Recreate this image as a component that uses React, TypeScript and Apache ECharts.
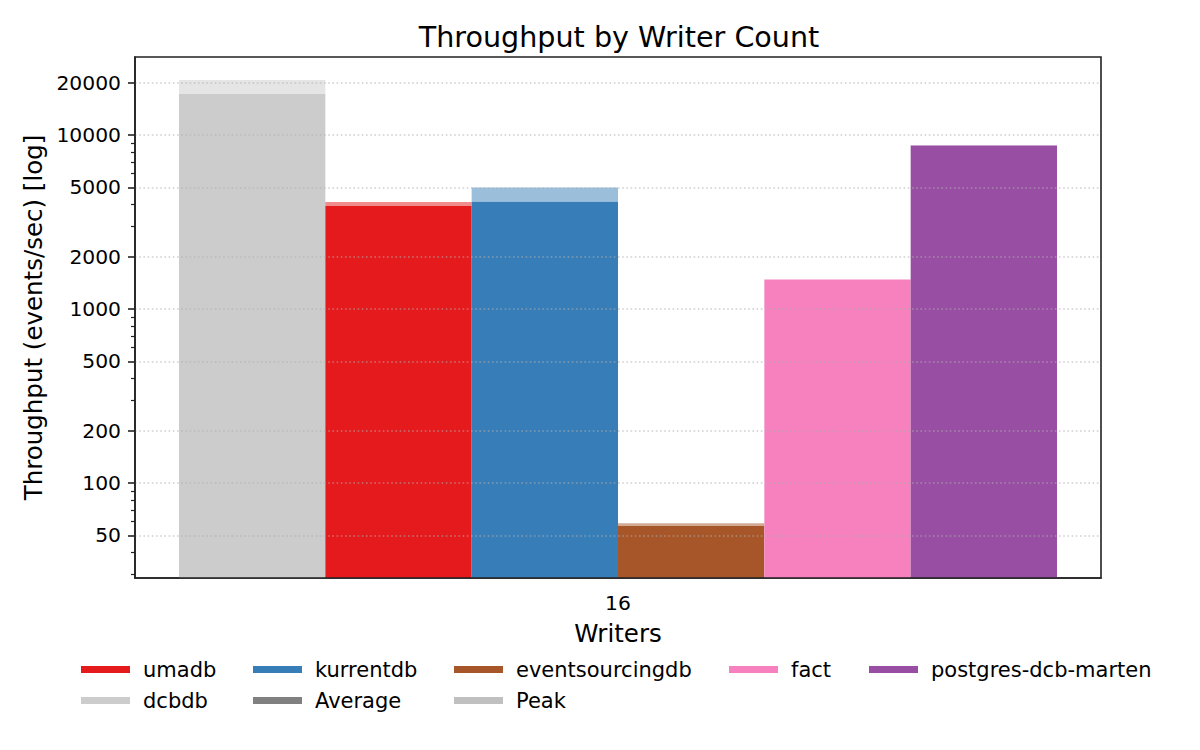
import React, { useEffect, useRef } from "react";
import * as echarts from "echarts";

// ---- data ----
const categories = ["16"];
const databases = ["dcbdb", "umadb", "kurrentdb", "eventsourcingdb", "fact", "postgres-dcb-marten"];
const averageThroughput = [17200, 3910, 4130, 56.6, 1468, 8680];
const peakThroughput = [20700, 4120, 4990, 58.6, 1487, 8760];
const seriesColors = ["#cccccc", "#e41a1c", "#377eb8", "#a65628", "#f781bf", "#984ea3"];
const majorTickValues = [50, 100, 200, 500, 1000, 2000, 5000, 10000, 20000];
const minorTickValues = [30, 40, 60, 70, 80, 90, 300, 400, 600, 700, 800, 900, 3000, 4000, 6000, 7000, 8000, 9000];
const yRange = [28.4, 28070];
const legendColumns = [
  ["umadb", "dcbdb"],
  ["kurrentdb", "Average"],
  ["eventsourcingdb", "Peak"],
  ["fact"],
  ["postgres-dcb-marten"],
];

const FONT = "DejaVu Sans";

export default function App() {
  const ref = useRef<HTMLDivElement>(null);

  useEffect(() => {
    if (!ref.current) return;
    const chart = echarts.init(ref.current, undefined, { renderer: "svg" });
    const lg = (v: number) => Math.log10(v);
    const yMin = lg(yRange[0]);
    const yMax = lg(yRange[1]);
    const barW = 146.33;

    const series: any[] = [];
    databases.forEach((name, i) => {
      series.push({
        type: "bar",
        name,
        stack: name,
        barWidth: barW,
        barGap: "0%",
        data: [lg(averageThroughput[i])],
        itemStyle: { color: seriesColors[i] },
        emphasis: { disabled: true },
      });
      series.push({
        type: "bar",
        name: name + " peak",
        stack: name,
        barWidth: barW,
        barGap: "0%",
        data: [lg(peakThroughput[i]) - lg(averageThroughput[i])],
        itemStyle: { color: seriesColors[i], opacity: 0.5 },
        emphasis: { disabled: true },
      });
    });
    series.push({
      type: "bar",
      name: "Average",
      stack: "dcbdb",
      barWidth: barW,
      barGap: "0%",
      data: [],
      itemStyle: { color: "#808080" },
    });
    series.push({
      type: "bar",
      name: "Peak",
      stack: "dcbdb",
      barWidth: barW,
      barGap: "0%",
      data: [],
      itemStyle: { color: "#c0c0c0" },
    });

    const legendLefts = [81, 253, 454, 729, 869];
    const legends = legendColumns.map((col, i) => ({
      orient: "vertical",
      left: legendLefts[i],
      top: 659,
      padding: 0,
      itemGap: 10,
      itemWidth: 49,
      itemHeight: 7,
      icon: "rect",
      selectedMode: false,
      data: col,
      textStyle: {
        fontFamily: FONT,
        fontSize: 21,
        color: "#000",
        lineHeight: 20,
        padding: [0, 0, 0, 8],
      },
    }));

    chart.setOption({
      animation: false,
      textStyle: { fontFamily: FONT },
      title: {
        text: "Throughput by Writer Count",
        left: 614,
        top: 17,
        textAlign: "center",
        textStyle: { fontFamily: FONT, fontSize: 28.6, fontWeight: "normal", color: "#000" },
      },
      legend: legends,
      grid: {
        left: 135,
        top: 57,
        width: 966,
        height: 521,
        show: true,
        borderColor: "#222",
        borderWidth: 1.6,
        backgroundColor: "transparent",
        containLabel: false,
        outerBoundsMode: "none",
      },
      xAxis: {
        type: "category",
        data: categories,
        z: 3,
        name: "Writers",
        nameLocation: "middle",
        nameGap: 43,
        nameTextStyle: { fontFamily: FONT, fontSize: 24.5, color: "#000" },
        axisLine: { onZero: false, lineStyle: { color: "#222", width: 1.6 } },
        axisTick: { alignWithLabel: true, length: 7, lineStyle: { color: "#222", width: 1.6 } },
        axisLabel: { fontFamily: FONT, fontSize: 20.3, color: "#000", margin: 15 },
        splitLine: { show: false },
      },
      yAxis: [
        {
          type: "value",
          min: yMin,
          max: yMax,
          z: 3,
          name: "Throughput (events/sec) [log]",
          nameLocation: "middle",
          nameGap: 88,
          nameTextStyle: { fontFamily: FONT, fontSize: 24.5, color: "#000" },
          axisLine: { show: true, lineStyle: { color: "#222", width: 1.6 } },
          axisTick: {
            show: true,
            customValues: majorTickValues.map(lg),
            length: 7,
            lineStyle: { color: "#222", width: 1.6 },
          },
          axisLabel: {
            customValues: majorTickValues.map(lg),
            formatter: (v: number) => String(Math.round(Math.pow(10, v))),
            fontFamily: FONT,
            fontSize: 20.3,
            color: "#000",
            margin: 14,
          },
          splitLine: {
            show: true,
            lineStyle: { color: "#b0b0b0", opacity: 0.6, type: [1.6, 2.6], width: 1.6 },
          },
        },
        {
          type: "value",
          min: yMin,
          max: yMax,
          position: "left",
          offset: 0,
          z: 3,
          axisLine: { show: false },
          axisTick: {
            show: true,
            customValues: minorTickValues.map(lg),
            length: 4,
            lineStyle: { color: "#222", width: 1.2 },
          },
          axisLabel: { show: false },
          splitLine: { show: false },
        },
      ],
      series,
    });

    return () => chart.dispose();
  }, []);

  return (
    <div
      ref={ref}
      style={{ position: "absolute", left: 0, top: 0, width: 1200, height: 750, background: "#fff" }}
    />
  );
}
